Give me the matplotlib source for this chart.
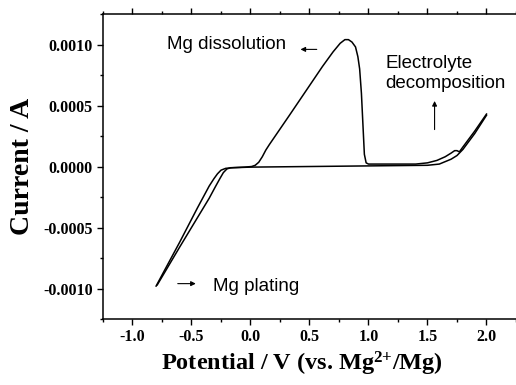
import numpy as np
import matplotlib.pyplot as plt
from matplotlib.ticker import MultipleLocator, FormatStrFormatter

plt.rcParams['mathtext.fontset'] = 'custom'
plt.rcParams['mathtext.rm'] = 'Liberation Serif:bold'
plt.rcParams['mathtext.bf'] = 'Liberation Serif:bold'
plt.rcParams['mathtext.default'] = 'bf'

# anodic scan: -0.8 V -> 2.0 V
fwd_v = [-0.79, -0.60, -0.45, -0.35, -0.30, -0.26, -0.23, -0.20, -0.17,
         -0.12, -0.05, 0.01, 0.04, 0.07, 0.10, 0.13, 0.16, 0.33, 0.47, 0.61,
         0.70, 0.76, 0.80, 0.83, 0.86, 0.89, 0.91, 0.925, 0.94, 0.955, 0.965,
         0.98, 1.0, 1.2, 1.4, 1.5, 1.58, 1.65, 1.70, 1.73, 1.75, 1.77, 1.80,
         1.90, 2.0]
fwd_i = [-0.00097, -0.00066, -0.00042, -0.00026, -0.00017, -0.00010,
         -0.00005, -0.00002, -0.00001, -0.000008, -0.000005, 0.0, 0.00001,
         0.000035, 0.00008, 0.000135, 0.00018, 0.00042, 0.00062, 0.00082,
         0.00094, 0.00101, 0.00104, 0.00104, 0.00102, 0.00098, 0.00090,
         0.00080, 0.00060, 0.00030, 0.00010, 0.00003, 0.00002, 0.00002,
         0.00002, 0.00003, 0.00005, 0.00008, 0.00011, 0.00013, 0.00013,
         0.00012, 0.00016, 0.00029, 0.00043]

# cathodic scan: 2.0 V -> -0.8 V
rev_v = [2.0, 1.90, 1.80, 1.75, 1.70, 1.65, 1.60, 1.50, 1.30, 1.0, 0.5, 0.0,
         -0.15, -0.21, -0.25, -0.28, -0.31, -0.35, -0.45, -0.60, -0.80]
rev_i = [0.00042, 0.00027, 0.00014, 0.00009, 0.00006, 0.00004, 0.00002,
         0.00001, 0.000008, 0.000005, 0.0, -0.000005, -0.00001, -0.000015,
         -0.00003, -0.00006, -0.00010, -0.00016, -0.00034, -0.00062,
         -0.00098]

fig = plt.figure(figsize=(5.16, 3.85), dpi=100)
ax = fig.add_axes([0.1996, 0.1714, 0.8004, 0.7922])

ax.plot(fwd_v, fwd_i, color='black', lw=1.1)
ax.plot(rev_v, rev_i, color='black', lw=1.1)

ax.set_xlim(-1.25, 2.25)
ax.set_ylim(-0.00125, 0.00125)
ax.xaxis.set_major_locator(MultipleLocator(0.5))
ax.xaxis.set_minor_locator(MultipleLocator(0.25))
ax.yaxis.set_major_locator(MultipleLocator(0.0005))
ax.yaxis.set_minor_locator(MultipleLocator(0.00025))
ax.xaxis.set_major_formatter(FormatStrFormatter('%.1f'))
ax.yaxis.set_major_formatter(FormatStrFormatter('%.4f'))
ax.spines['right'].set_visible(False)
for s in ['left', 'bottom', 'top']:
    ax.spines[s].set_linewidth(1.1)
ax.tick_params(which='major', direction='out', length=4, width=1.0,
               labelsize=11.5)
ax.tick_params(which='minor', direction='out', length=2.5, width=1.0)
ax.tick_params(axis='x', which='both', top=True)
for lab in ax.get_xticklabels() + ax.get_yticklabels():
    lab.set_family('Liberation Serif')
    lab.set_fontweight('bold')

ax.set_xlabel('Potential / V (vs. Mg$^{2{+}}$/Mg)', family='Liberation Serif',
              fontweight='bold', fontsize=17.5)
ax.xaxis.set_label_coords(0.482, -0.102)
ax.set_ylabel('Current / A', family='Liberation Serif', fontweight='bold',
              fontsize=20, labelpad=6)

tf = dict(family='Liberation Sans', fontsize=13.5)
ax.text(-0.71, 0.00100, 'Mg dissolution', va='center', **tf)
ax.annotate('', xy=(0.40, 0.00096), xytext=(0.585, 0.00096),
            arrowprops=dict(arrowstyle='-|>', color='black', lw=0.8,
                            mutation_scale=7))
ax.text(1.14, 0.00091, 'Electrolyte\ndecomposition', va='top',
        linespacing=1.2, **tf)
ax.annotate('', xy=(1.56, 0.00056), xytext=(1.56, 0.00028),
            arrowprops=dict(arrowstyle='-|>', color='black', lw=0.8,
                            mutation_scale=7))
ax.text(-0.32, -0.00098, 'Mg plating', va='center', **tf)
ax.annotate('', xy=(-0.44, -0.00096), xytext=(-0.64, -0.00096),
            arrowprops=dict(arrowstyle='-|>', color='black', lw=0.8,
                            mutation_scale=7))

fig.savefig('out.png', dpi=100)
